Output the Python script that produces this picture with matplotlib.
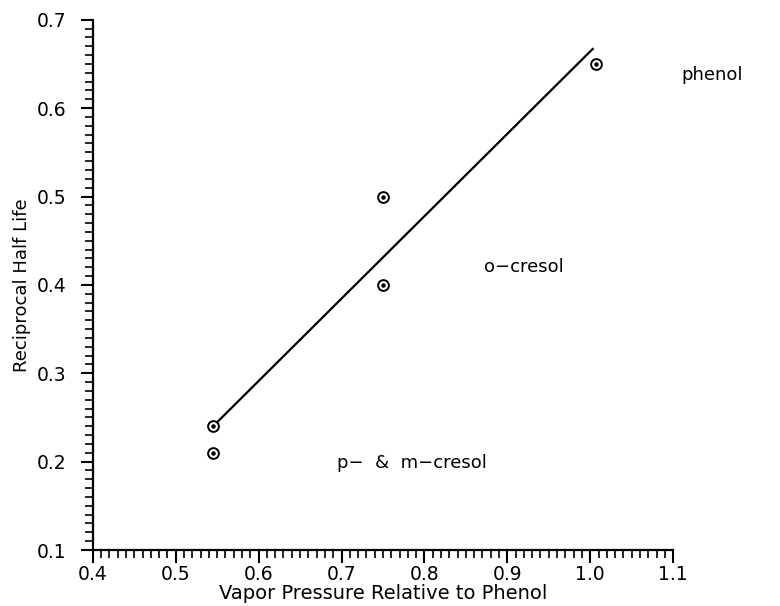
import matplotlib.pyplot as plt
from matplotlib.ticker import MultipleLocator

# data
vapor = [0.545, 0.545, 0.75, 0.75, 1.007]
recip_half_life = [0.24, 0.21, 0.50, 0.40, 0.65]
fit_x = [0.545, 1.003]
fit_y = [0.24, 0.667]

labels = ["phenol", "o\u2212cresol", "p\u2212  &  m\u2212cresol"]
label_x = [1.11, 0.872, 0.694]
label_y = [0.637, 0.42, 0.198]

plt.rcParams['font.family'] = ['DejaVu Sans']

fig = plt.figure(figsize=(7.8, 6.06), dpi=100)
ax = fig.add_axes([0.119, 0.0924, 0.744, 0.875])

ax.plot(fit_x, fit_y, color="black", lw=1.6)
ax.scatter(vapor, recip_half_life, s=60, facecolors="white", edgecolors="black", linewidths=1.4, zorder=3)
ax.scatter(vapor, recip_half_life, s=5, color="black", zorder=4)

for t, x, y in zip(labels, label_x, label_y):
    ax.text(x, y, t, fontsize=13, va="center", ha="left", clip_on=False)

ax.set_xlim(0.4, 1.1)
ax.set_ylim(0.1, 0.7)
ax.xaxis.set_major_locator(MultipleLocator(0.1))
ax.xaxis.set_minor_locator(MultipleLocator(0.01))
ax.yaxis.set_major_locator(MultipleLocator(0.1))
ax.yaxis.set_minor_locator(MultipleLocator(0.01))
ax.xaxis.set_major_formatter(lambda v, p: f"{v:.1f}")
ax.yaxis.set_major_formatter(lambda v, p: f"{v:.1f}")

ax.spines["top"].set_visible(False)
ax.spines["right"].set_visible(False)
ax.spines["left"].set_linewidth(1.6)
ax.spines["bottom"].set_linewidth(1.6)
ax.tick_params(which="major", length=9, width=1.5, labelsize=13.5, direction="out")
ax.tick_params(axis="y", which="major", pad=10)
ax.tick_params(axis="x", which="major", pad=2)
ax.tick_params(which="minor", length=6, width=1.2, direction="out")

ax.set_xlabel("Vapor Pressure Relative to Phenol", fontsize=14, labelpad=0)
ax.set_ylabel("Reciprocal Half Life", fontsize=13, labelpad=4)

fig.savefig("out.png", dpi=100)
